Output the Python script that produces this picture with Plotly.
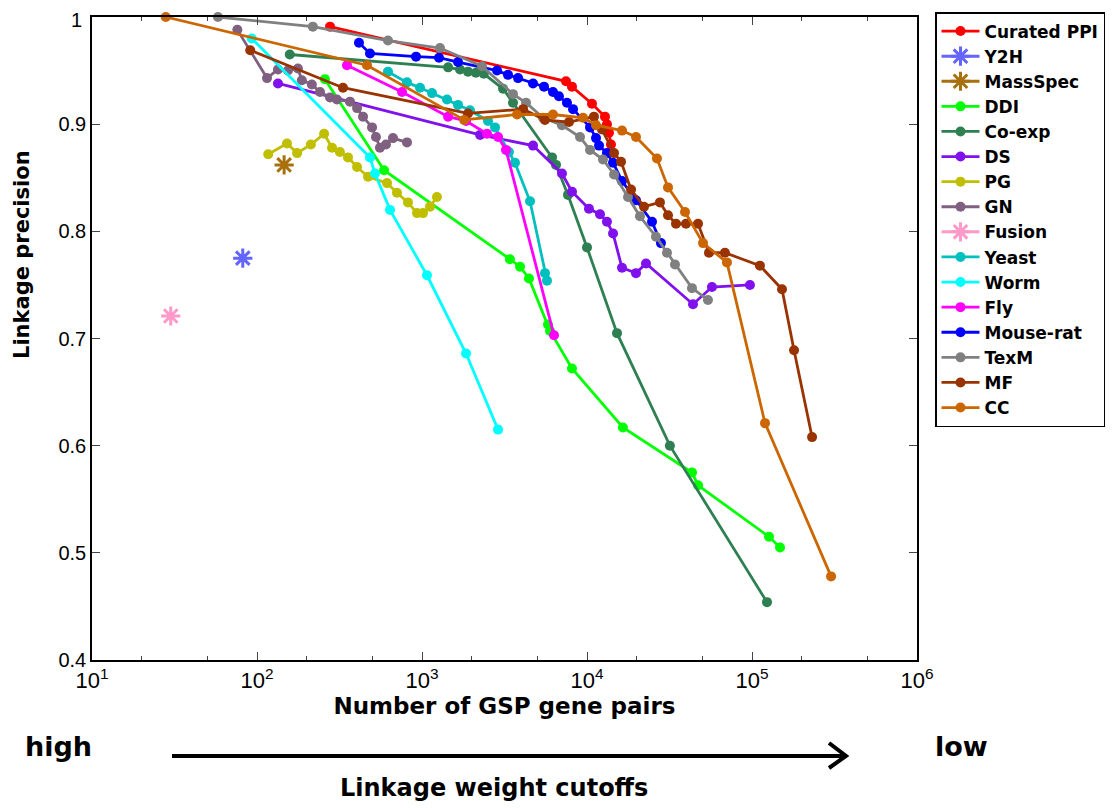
import plotly.graph_objects as go

# ---------------- data (x = number of GSP gene pairs, y = linkage precision) -------------
ppi_x = [277, 7460, 8110, 10720, 12850, 13210, 13590, 13970]
ppi_y = [0.991, 0.940, 0.935, 0.919, 0.907, 0.900, 0.892, 0.881]

y2h_x = [82]
y2h_y = [0.775]

ms_x = [146]
ms_y = [0.862]

ddi_x = [258, 589, 3410, 3930, 4450, 5800, 5970, 8110, 16500, 43300, 47100, 126800, 147900]
ddi_y = [0.942, 0.857, 0.774, 0.767, 0.756, 0.713, 0.707, 0.672, 0.617, 0.575, 0.563, 0.515, 0.505]

coexp_x = [158, 1440, 1700, 1900, 2120, 2370, 3100, 3560, 6140, 6490, 7670, 10000, 15200, 31800, 123300]
coexp_y = [0.965, 0.953, 0.951, 0.949, 0.948, 0.947, 0.933, 0.920, 0.869, 0.862, 0.834, 0.785, 0.705, 0.600, 0.454]

ds_x = [134, 2250, 4710, 7050, 8110, 10280, 11990, 13210, 14380, 16300, 19810, 22780, 43900, 57200, 97200]
ds_y = [0.938, 0.890, 0.880, 0.854, 0.837, 0.821, 0.816, 0.809, 0.798, 0.766, 0.761, 0.770, 0.732, 0.748, 0.750]

pg_x = [117, 152, 175, 212, 255, 285, 318, 356, 404, 471, 614, 705, 822, 933, 1014, 1118, 1232]
pg_y = [0.872, 0.882, 0.873, 0.881, 0.891, 0.878, 0.874, 0.869, 0.860, 0.851, 0.845, 0.836, 0.827,
        0.817, 0.817, 0.823, 0.832]

gn_x = [76, 115, 134, 154, 177, 187, 215, 241, 277, 305, 366, 404, 439, 498, 526, 556, 605, 667, 811]
gn_y = [0.988, 0.943, 0.951, 0.950, 0.952, 0.941, 0.937, 0.930, 0.925, 0.923, 0.921, 0.915, 0.907,
        0.897, 0.888, 0.878, 0.881, 0.887, 0.883]

fusion_x = [30]
fusion_y = [0.721]

yeast_x = [622, 811, 973, 1150, 1418, 1653, 1954, 2512, 2770, 3365, 3660, 4516, 5564, 5720]
yeast_y = [0.949, 0.939, 0.934, 0.929, 0.923, 0.918, 0.913, 0.903, 0.897, 0.874, 0.864, 0.828, 0.761, 0.754]

worm_x = [93, 484, 519, 640, 1072, 1849, 2890]
worm_y = [0.980, 0.869, 0.854, 0.820, 0.759, 0.686, 0.615]

fly_x = [351, 757, 1440, 1849, 2477, 2890, 3229, 6310]
fly_y = [0.955, 0.930, 0.907, 0.903, 0.891, 0.888, 0.876, 0.703]

mr_x = [415, 484, 920, 1268, 1653, 2850, 3320, 3820, 4710, 5490, 6220, 6760, 7560, 8230, 10430,
        11340, 11830, 13210, 14380, 16300, 19810, 24770, 28070]
mr_y = [0.976, 0.966, 0.963, 0.962, 0.958, 0.950, 0.946, 0.943, 0.938, 0.935, 0.930, 0.926, 0.920,
        0.914, 0.897, 0.887, 0.880, 0.873, 0.864, 0.847, 0.829, 0.809, 0.789]

texm_x = [58, 218, 622, 1285, 2310, 3560, 4270, 5410, 7050, 9070, 10430, 12500, 14580, 17720, 20940,
          26180, 30530, 34140, 43290, 54070]
texm_y = [1.0, 0.991, 0.978, 0.971, 0.954, 0.928, 0.920, 0.906, 0.899, 0.888, 0.876, 0.867, 0.853,
          0.832, 0.814, 0.795, 0.780, 0.769, 0.747, 0.736]

mf_x = [91, 332, 1900, 4100, 5560, 7780, 11020, 12330, 14580, 16080, 18490, 22150, 27670, 30970,
        34620, 39810, 47080, 54860, 68560, 111700, 152000, 179800, 231200]
mf_y = [0.969, 0.934, 0.910, 0.914, 0.904, 0.902, 0.907, 0.895, 0.873, 0.865, 0.839, 0.823, 0.827,
        0.815, 0.807, 0.807, 0.807, 0.780, 0.780, 0.768, 0.746, 0.689, 0.608]

cc_x = [28, 464, 1800, 3770, 6220, 9460, 11340, 16300, 19810, 26550, 30970, 39270, 50480, 70490,
        119900, 301500]
cc_y = [1.0, 0.955, 0.904, 0.909, 0.909, 0.906, 0.899, 0.894, 0.888, 0.868, 0.841, 0.818, 0.789,
        0.771, 0.621, 0.478]

series = [
    ("Curated PPI", ppi_x, ppi_y, "#ff0000", "circle"),
    ("Y2H", y2h_x, y2h_y, "#6464ff", "star"),
    ("MassSpec", ms_x, ms_y, "#a8700c", "star"),
    ("DDI", ddi_x, ddi_y, "#00ff00", "circle"),
    ("Co-exp", coexp_x, coexp_y, "#2e8052", "circle"),
    ("DS", ds_x, ds_y, "#8010ec", "circle"),
    ("PG", pg_x, pg_y, "#bfbf00", "circle"),
    ("GN", gn_x, gn_y, "#806080", "circle"),
    ("Fusion", fusion_x, fusion_y, "#ff9ac8", "star"),
    ("Yeast", yeast_x, yeast_y, "#00bfbf", "circle"),
    ("Worm", worm_x, worm_y, "#00ffff", "circle"),
    ("Fly", fly_x, fly_y, "#ff00ff", "circle"),
    ("Mouse-rat", mr_x, mr_y, "#0000ff", "circle"),
    ("TexM", texm_x, texm_y, "#808080", "circle"),
    ("MF", mf_x, mf_y, "#993300", "circle"),
    ("CC", cc_x, cc_y, "#cc6600", "circle"),
]

x_tickvals = [10, 100, 1000, 10000, 100000, 1000000]
x_ticktext = ["10<sup>1</sup>", "10<sup>2</sup>", "10<sup>3</sup>", "10<sup>4</sup>",
              "10<sup>5</sup>", "10<sup>6</sup>"]
y_tickvals = [0.4, 0.5, 0.6, 0.7, 0.8, 0.9, 1.0]
# the top label "1" is drawn as an annotation (nudged 3 px down so it is not clipped by the page edge)
y_ticktext = ["0.4", "0.5", "0.6", "0.7", "0.8", "0.9", ""]
y_top_label = "1"

FONT = "Liberation Sans, Arial, sans-serif"
BFONT = "DejaVu Sans, Liberation Sans, sans-serif"

fig = go.Figure()
for i, (name, xs, ys, col, kind) in enumerate(series):
    if kind == "star":
        fig.add_trace(go.Scatter(
            x=xs, y=ys, name=name, mode="lines+markers",
            line=dict(color=col, width=3),
            marker=dict(symbol="asterisk-open", size=16, color=col, line=dict(color=col, width=3)),
            cliponaxis=False))
    else:
        fig.add_trace(go.Scatter(
            x=xs, y=ys, name=name, mode="lines+markers",
            line=dict(color=col, width=2.8),
            marker=dict(symbol="circle", size=10, color=col),
            cliponaxis=False))

# the page body adds an 8 px offset; the figure is sized so the plot lands where the reference has it
OFF = 8
W, H = 1120 - OFF, 808 - OFF
L, T, B = 92 - OFF, 17 - OFF, 148
R = W - L - 825


def px(xp):
    return (xp - 92) / 825


def py(yp):
    return (660 - yp) / 643


fig.update_layout(
    width=W, height=H,
    margin=dict(l=L, r=R, t=T, b=B, autoexpand=False),
    paper_bgcolor="white", plot_bgcolor="white",
    font=dict(family=FONT, color="black"),
    showlegend=True,
    legend=dict(
        x=px(935), y=py(12), xanchor="left", yanchor="top",
        bordercolor="black", borderwidth=1.5, bgcolor="white",
        font=dict(family=BFONT, size=17, weight="bold", color="black"),
        itemwidth=38, maxheight=700,
    ),
    xaxis=dict(
        type="log", range=[1, 6],
        tickvals=x_tickvals, ticktext=x_ticktext,
        ticks="inside", ticklen=8, tickwidth=1, tickcolor="#444",
        minor=dict(ticks="inside", ticklen=4, tickcolor="#444", showgrid=False),
        showline=True, linecolor="black", linewidth=1.5, mirror="ticks",
        showgrid=False, zeroline=False, ticklabeloverflow="allow",
        tickfont=dict(family=FONT, size=22, color="black"),
        title=dict(text="Number of GSP gene pairs", standoff=4,
                   font=dict(family=BFONT, size=23, weight="bold", color="black")),
    ),
    yaxis=dict(
        range=[0.4, 1.0], tickvals=y_tickvals, ticktext=y_ticktext,
        ticks="inside", ticklen=8, tickwidth=1, tickcolor="#444",
        showline=True, linecolor="black", linewidth=1.5, mirror="ticks",
        showgrid=False, zeroline=False, ticklabeloverflow="allow",
        tickfont=dict(family=FONT, size=20, color="black"),
    ),
)

fig.add_annotation(x=px(84), y=py(20), xref="paper", yref="paper", text=y_top_label,
                   showarrow=False, xanchor="right", yanchor="middle",
                   font=dict(family=FONT, size=20, color="black"))

# y-axis label (sits above the axis centre in the reference)
fig.add_annotation(x=px(22), y=py(255), xref="paper", yref="paper", text="Linkage precision",
                   textangle=-90, showarrow=False, xanchor="center", yanchor="middle",
                   font=dict(family=BFONT, size=21, weight="bold"))

# bottom annotations: high -> low, linkage weight cutoffs
fig.add_annotation(x=px(58), y=py(746), xref="paper", yref="paper", text="high",
                   showarrow=False, xanchor="center", yanchor="middle",
                   font=dict(family=BFONT, size=27, weight="bold"))
fig.add_annotation(x=px(962), y=py(746), xref="paper", yref="paper", text="low",
                   showarrow=False, xanchor="center", yanchor="middle",
                   font=dict(family=BFONT, size=27, weight="bold"))
fig.add_annotation(x=px(494), y=py(788), xref="paper", yref="paper", text="Linkage weight cutoffs",
                   showarrow=False, xanchor="center", yanchor="middle",
                   font=dict(family=BFONT, size=24, weight="bold"))
fig.add_shape(type="line", xref="paper", yref="paper", x0=px(172), y0=py(756), x1=px(845), y1=py(756),
              line=dict(color="black", width=4))
fig.add_shape(type="path", xref="paper", yref="paper",
              path=f"M {px(829)},{py(743)} L {px(846)},{py(756)} L {px(829)},{py(768)}",
              line=dict(color="black", width=4))

fig.write_html("out.html")
